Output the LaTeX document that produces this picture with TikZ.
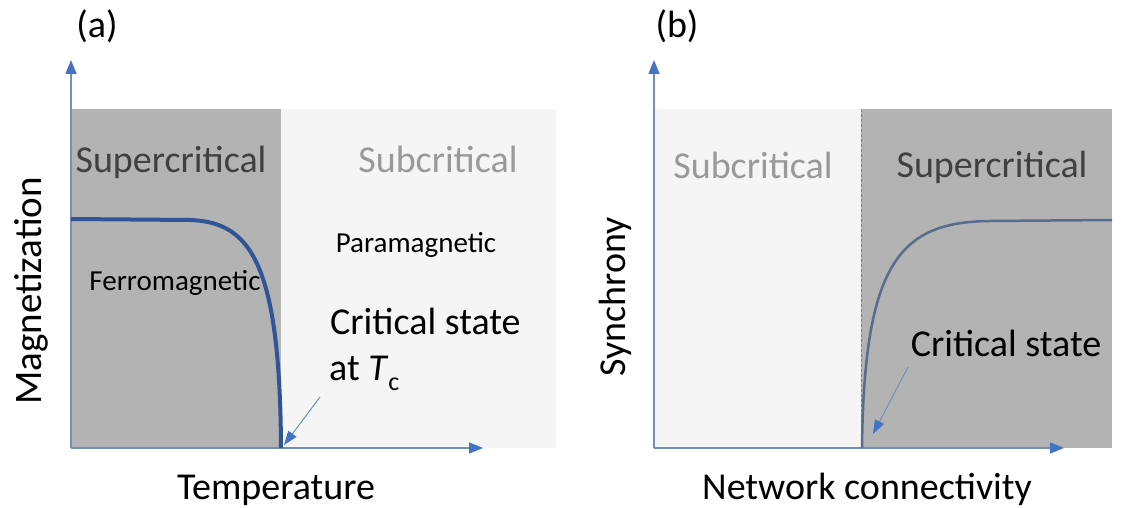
\documentclass[tikz,border=0pt]{standalone}
\usepackage{fontspec}
\setmainfont{Carlito}
\usetikzlibrary{arrows.meta}
\definecolor{darkzone}{HTML}{B3B3B3}
\definecolor{lightzone}{HTML}{F5F5F5}
\definecolor{axisline}{HTML}{7290B4}
\definecolor{tipblue}{HTML}{4472C4}
\definecolor{magcurve}{HTML}{2F5597}
\definecolor{synccurve}{HTML}{5A6C8E}
\definecolor{supertext}{HTML}{404040}
\definecolor{subtext}{HTML}{999999}
\tikzset{
  big/.style={font=\fontsize{38}{42}\selectfont, inner sep=0pt},
  small/.style={font=\fontsize{29}{32}\selectfont, inner sep=0pt},
  axisarrow/.style={draw=axisline, line width=1.5pt, -{Triangle[length=14pt,width=11pt,color=tipblue]}},
  pointer/.style={draw=axisline, line width=1pt, -{Triangle[length=14pt,width=10pt,color=tipblue]}},
}
\begin{document}
\begin{tikzpicture}[x=1pt,y=-1pt]
\useasboundingbox (0,0) rectangle (1124,508);

% ---------- (a) magnetization vs temperature ----------
\fill[darkzone] (71,109) rectangle (281,448);
\fill[lightzone] (281,109) rectangle (556,448);

\coordinate (oa) at (71,448);
\coordinate (ya) at (71,60);
\coordinate (xa) at (483,448);
\draw[axisarrow] (oa) -- (ya);
\draw[axisarrow] (oa) -- (xa);

\draw[magcurve, line width=4pt]
  (71,219) -- (190,220) .. controls (250,222) and (280,262) .. (281,448);

\node[big, anchor=base] (la) at (97,38) {(a)};
\node[big, anchor=base, text=supertext] (supa) at (171,172) {Supercritical};
\node[big, anchor=base, text=subtext] (suba) at (438,172) {Subcritical};
\node[small, anchor=base] (ferro) at (175,290) {Ferromagnetic};
\node[small, anchor=base] (para) at (416,252) {Paramagnetic};
\node[big, anchor=base west] (csa) at (330,334) {Critical state};
\node[big, anchor=base west] (csa2) at (329,380)
  {at \textit{T}\raisebox{-0.28em}{\fontsize{26}{26}\selectfont c}};
\node[big, font=\fontsize{39}{42}\selectfont, rotate=90] (maglab) at (31,291) {Magnetization};
\node[big, anchor=base] (templab) at (276,499) {Temperature};

\coordinate (pa) at (320,397);
\draw[pointer] (pa) -- (284,445);

% ---------- (b) synchrony vs network connectivity ----------
\fill[lightzone] (654,109) rectangle (861,448);
\fill[darkzone] (861,109) rectangle (1112,448);
\draw[gray, densely dashed, line width=0.8pt] (861,109) -- (861,448);

\coordinate (ob) at (654,448);
\coordinate (yb) at (654,60);
\coordinate (xb) at (1064,448);
\draw[axisarrow] (ob) -- (yb);
\draw[axisarrow] (ob) -- (xb);

\draw[synccurve, line width=2.5pt]
  (862,448) .. controls (864,262) and (900,222) .. (990,221) -- (1112,220);

\node[big, anchor=base] (lb) at (677,38) {(b)};
\node[big, anchor=base, text=subtext] (subb) at (753,178) {Subcritical};
\node[big, anchor=base, text=supertext] (supb) at (992,177) {Supercritical};
\node[big, anchor=base] (csb) at (1006,356) {Critical state};
\node[big, rotate=90] (synlab) at (615,297) {Synchrony};
\node[big, anchor=base] (netlab) at (867,499) {Network connectivity};

\coordinate (pb) at (908,367);
\draw[pointer] (pb) -- (873,434);
\end{tikzpicture}
\end{document}
